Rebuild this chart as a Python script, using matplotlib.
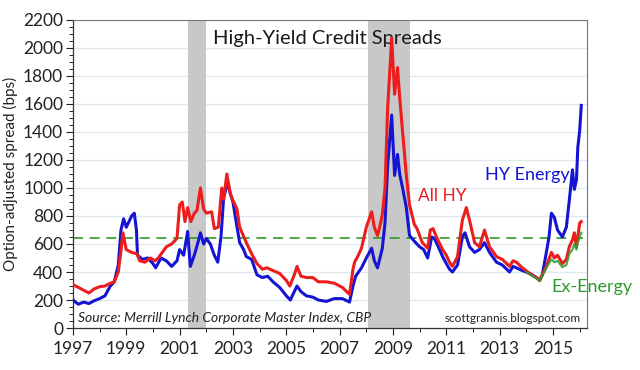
import matplotlib

matplotlib.use("Agg")

import matplotlib.pyplot as plt
import numpy as np
from matplotlib.ticker import MultipleLocator

# HY Energy spread (bps)
energy_years = [
    1997.0, 1997.2, 1997.4, 1997.6, 1997.8, 1998.0, 1998.2, 1998.4, 1998.55, 1998.7,
    1998.8, 1998.9, 1999.0, 1999.1, 1999.2, 1999.3, 1999.38, 1999.42, 1999.6, 1999.8,
    2000.0, 2000.1, 2000.3, 2000.5, 2000.7, 2000.9, 2001.0, 2001.15, 2001.3, 2001.4,
    2001.55, 2001.7, 2001.78, 2001.9, 2002.0, 2002.15, 2002.3, 2002.43, 2002.55, 2002.65,
    2002.8, 2002.9, 2003.0, 2003.1, 2003.25, 2003.4, 2003.5, 2003.7, 2003.9, 2004.1,
    2004.3, 2004.5, 2004.75, 2005.0, 2005.15, 2005.3, 2005.4, 2005.55, 2005.75, 2006.0,
    2006.2, 2006.5, 2006.8, 2007.1, 2007.37, 2007.5, 2007.6, 2007.82, 2008.0, 2008.2,
    2008.3, 2008.42, 2008.6, 2008.7, 2008.8, 2008.95, 2009.06, 2009.17, 2009.25, 2009.36,
    2009.5, 2009.62, 2009.8, 2010.0, 2010.15, 2010.3, 2010.45, 2010.55, 2010.7, 2010.86,
    2011.0, 2011.12, 2011.23, 2011.42, 2011.6, 2011.7, 2011.87, 2012.06, 2012.24, 2012.43,
    2012.62, 2012.88, 2013.1, 2013.37, 2013.5, 2013.63, 2013.85, 2014.12, 2014.38, 2014.5,
    2014.6, 2014.75, 2014.85, 2014.94, 2015.05, 2015.17, 2015.35, 2015.5, 2015.61, 2015.73,
    2015.8, 2015.88, 2015.93, 2016.0, 2016.06,
]
energy_spread = [
    200, 170, 185, 175, 195, 210, 230, 300, 330, 450,
    700, 780, 720, 760, 800, 820, 700, 520, 490, 500,
    460, 430, 500, 480, 440, 480, 560, 520, 690, 440,
    520, 620, 680, 600, 640, 600, 520, 470, 650, 930,
    1040, 960, 900, 780, 610, 560, 510, 490, 380, 360,
    370, 330, 290, 230, 200, 260, 300, 260, 230, 220,
    200, 190, 210, 210, 185, 300, 370, 430, 500, 570,
    480, 430, 570, 750, 1160, 1520, 1090, 1240, 1100, 1000,
    860, 660, 620, 580, 560, 500, 650, 640, 580, 510,
    460, 420, 400, 450, 650, 680, 580, 540, 560, 610,
    540, 470, 450, 400, 440, 430, 410, 390, 360, 340,
    380, 540, 650, 820, 790, 700, 650, 720, 910, 1130,
    990, 1060, 1290, 1410, 1590,
]

# All HY spread (bps)
all_years = [
    1997.0, 1997.2, 1997.4, 1997.6, 1997.8, 1998.0, 1998.2, 1998.4, 1998.55, 1998.7,
    1998.8, 1998.87, 1999.0, 1999.2, 1999.4, 1999.5, 1999.7, 1999.9, 2000.07, 2000.2,
    2000.35, 2000.5, 2000.7, 2000.9, 2001.0, 2001.1, 2001.2, 2001.3, 2001.42, 2001.55,
    2001.65, 2001.78, 2001.9, 2002.0, 2002.2, 2002.3, 2002.45, 2002.58, 2002.65, 2002.77,
    2002.9, 2003.0, 2003.15, 2003.25, 2003.5, 2003.7, 2003.9, 2004.1, 2004.27, 2004.5,
    2004.75, 2005.0, 2005.13, 2005.3, 2005.4, 2005.55, 2005.77, 2006.0, 2006.2, 2006.5,
    2006.8, 2007.1, 2007.37, 2007.5, 2007.56, 2007.7, 2007.82, 2008.0, 2008.2, 2008.3,
    2008.42, 2008.5, 2008.6, 2008.7, 2008.8, 2008.9, 2008.95, 2009.06, 2009.17, 2009.25,
    2009.36, 2009.5, 2009.62, 2009.8, 2009.9, 2010.1, 2010.3, 2010.4, 2010.5, 2010.63,
    2010.86, 2011.0, 2011.12, 2011.23, 2011.42, 2011.6, 2011.75, 2011.87, 2012.06, 2012.24,
    2012.43, 2012.62, 2012.88, 2013.1, 2013.37, 2013.5, 2013.63, 2013.85, 2014.12, 2014.38,
    2014.5, 2014.6, 2014.75, 2014.94, 2015.05, 2015.17, 2015.35, 2015.5, 2015.61, 2015.73,
    2015.8, 2015.88, 2015.93, 2016.0, 2016.06,
]
all_spread = [
    310, 290, 270, 250, 280, 295, 300, 320, 330, 400,
    550, 680, 560, 540, 530, 480, 470, 500, 480, 500,
    540, 580, 600, 640, 880, 900, 760, 860, 760, 820,
    840, 1000, 850, 820, 830, 710, 720, 1000, 920, 1100,
    960, 910, 850, 720, 610, 530, 460, 420, 430, 410,
    390, 340, 300, 380, 440, 370, 360, 360, 330, 330,
    320, 290, 240, 420, 470, 520, 570, 720, 830, 720,
    660, 720, 810, 1000, 1570, 1900, 2070, 1670, 1860, 1650,
    1400, 1090, 880, 740, 710, 610, 570, 700, 710, 650,
    560, 520, 470, 440, 510, 770, 860, 770, 610, 580,
    700, 580, 510, 490, 440, 480, 470, 430, 390, 360,
    340, 380, 440, 540, 500, 520, 460, 490, 580, 630,
    680, 580, 650, 750, 760,
]

# Ex-Energy spread (bps)
ex_years = [
    2014.0, 2014.12, 2014.38, 2014.5, 2014.6, 2014.75, 2014.94, 2015.05, 2015.17, 2015.35,
    2015.5, 2015.61, 2015.73, 2015.8, 2015.88, 2015.93, 2016.0, 2016.06,
]
ex_spread = [
    400, 385, 355, 335, 375, 430, 490, 470, 480, 435,
    450, 530, 560, 600, 560, 610, 650, 680,
]

recessions = [(2001.3, 2002.0), (2008.05, 2009.65)]
reference_level = 645

RED = "#ee1d1d"
BLUE = "#1414d2"
GREEN = "#2e9a2e"

plt.rcParams["font.family"] = ["Lato", "DejaVu Sans"]

fig = plt.figure(figsize=(6.4, 3.7), dpi=100)
ax = fig.add_axes([0.114, 0.1135, 0.803, 0.8325])

for start, end in recessions:
    ax.axvspan(start, end, color="#c8c8c8", lw=0, zorder=1)

ax.set_ylim(0, 2200)
ax.set_xlim(1997, 2016.27)
ax.yaxis.set_major_locator(MultipleLocator(200))
ax.yaxis.set_minor_locator(MultipleLocator(50))
ax.xaxis.set_major_locator(MultipleLocator(2))
ax.xaxis.set_minor_locator(MultipleLocator(1))
ax.grid(axis="y", color="#dde9ef", linewidth=0.9, zorder=0)
ax.set_axisbelow(True)

ax.plot(energy_years, energy_spread, color=BLUE, linewidth=2.2, zorder=3)
ax.plot(all_years, all_spread, color=RED, linewidth=2.2, zorder=4)
ax.plot(ex_years, ex_spread, color=GREEN, linewidth=1.6, zorder=5, alpha=0.85)
ax.axhline(reference_level, color=GREEN, linewidth=1.2, dashes=(6, 4), zorder=2)

ax.set_xticks(np.arange(1997, 2017, 2))
ax.set_xticklabels([str(y) for y in range(1997, 2017, 2)])
ax.tick_params(axis="both", which="major", labelsize=12.5, length=5, width=0.8,
               colors="#222222", direction="out")
ax.tick_params(axis="both", which="minor", length=3, width=0.6, direction="out")
ax.tick_params(axis="x", pad=4)
ax.tick_params(axis="y", pad=2)
for side, spine in ax.spines.items():
    spine.set_linewidth(0.9 if side in ("left", "bottom") else 0.8)
    spine.set_color("#333333" if side in ("left", "bottom") else "#777777")

ax.set_ylabel("Option-adjusted spread (bps)", fontsize=11, color="#222222", labelpad=4)

ax.text(0.272, 0.94, "High-Yield Credit Spreads", transform=ax.transAxes,
        fontsize=14.5, color="#1a1a1a", ha="left", va="center")
ax.text(2009.92, 945, "All HY", color=RED, fontsize=12.5, ha="left", va="center")
ax.text(2012.45, 1090, "HY Energy", color=BLUE, fontsize=13, ha="left", va="center")
ax.text(2014.95, 290, "Ex-Energy", color=GREEN, fontsize=13, ha="left", va="center",
        clip_on=False)
ax.text(0.01, 0.012, "Source: Merrill Lynch Corporate Master Index, CBP",
        transform=ax.transAxes, fontsize=10, style="italic", color="#222222",
        ha="left", va="bottom")
ax.text(0.988, 0.012, "scottgrannis.blogspot.com", transform=ax.transAxes,
        fontsize=8.5, color="#222222", ha="right", va="bottom")

fig.savefig("out.png", dpi=100)
plt.close(fig)
